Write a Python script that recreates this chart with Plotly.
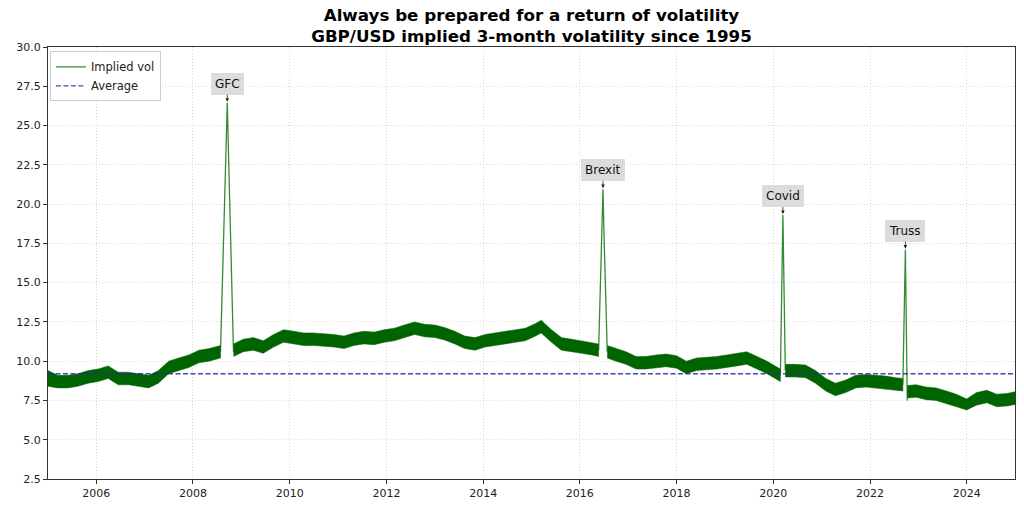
import plotly.graph_objects as go
import pandas as pd

# ── data ─────────────────────────────────────────────────────────────────────
band_dates = [
    "2005-01-01", "2005-03-15", "2005-06-01", "2005-08-15", "2005-11-01",
    "2006-01-15", "2006-04-01", "2006-06-15", "2006-09-01", "2006-11-15",
    "2007-02-01", "2007-04-15", "2007-07-01", "2007-09-15", "2007-12-01",
    "2008-02-15", "2008-05-01", "2008-07-27",
    "2008-11-02", "2009-01-15", "2009-04-01", "2009-06-15", "2009-09-01", "2009-11-15",
    "2010-02-01", "2010-04-15", "2010-07-01", "2010-09-15", "2010-12-01",
    "2011-02-15", "2011-05-01", "2011-07-15", "2011-10-01", "2011-12-15",
    "2012-03-01", "2012-05-15", "2012-08-01", "2012-10-15",
    "2013-01-01", "2013-03-15", "2013-06-01", "2013-08-15", "2013-11-01",
    "2014-01-15", "2014-04-01", "2014-06-15", "2014-09-01", "2014-11-15",
    "2015-02-01", "2015-03-15", "2015-06-01", "2015-08-15", "2015-11-01",
    "2016-01-15", "2016-04-01", "2016-05-22",
    "2016-07-26", "2016-10-01", "2016-12-15",
    "2017-03-01", "2017-05-15", "2017-08-01", "2017-10-15",
    "2018-01-01", "2018-03-15", "2018-06-01", "2018-08-15", "2018-11-01",
    "2019-01-15", "2019-04-01", "2019-06-15", "2019-09-01", "2019-11-15",
    "2020-02-24",
    "2020-04-01", "2020-06-15", "2020-09-01", "2020-11-15",
    "2021-02-01", "2021-04-15", "2021-07-01", "2021-09-15", "2021-12-01",
    "2022-02-15", "2022-05-01", "2022-07-15", "2022-09-06",
    "2022-10-09", "2022-12-15",
    "2023-03-01", "2023-05-15", "2023-08-01", "2023-10-15",
    "2024-01-01", "2024-03-15", "2024-06-01", "2024-08-15", "2024-11-01", "2024-12-31",
]
# daily noise envelope (low / high of the band)
band_lo = [
    8.4, 8.3, 8.3, 8.4, 8.6,
    8.7, 8.9, 8.5, 8.5, 8.4,
    8.3, 8.6, 9.2, 9.4, 9.6,
    9.9, 10.0, 10.2,
    10.3, 10.6, 10.7, 10.5, 10.9, 11.2,
    11.1, 11.0, 11.0, 10.95, 10.9,
    10.8, 11.0, 11.1, 11.05, 11.2,
    11.3, 11.5, 11.7, 11.55,
    11.5, 11.35, 11.1, 10.8, 10.7,
    10.9, 11.0, 11.1, 11.2, 11.3,
    11.6, 11.8, 11.2, 10.7, 10.6,
    10.5, 10.4, 10.3,
    10.2, 10.0, 9.8,
    9.5, 9.5, 9.6, 9.65,
    9.55, 9.2, 9.4, 9.45, 9.5,
    9.6, 9.7, 9.8, 9.5, 9.2,
    8.7,
    9.0, 9.0, 8.95, 8.6,
    8.1, 7.8, 8.0, 8.3, 8.35,
    8.3, 8.25, 8.15, 8.1,
    7.65, 7.7,
    7.55, 7.5, 7.3, 7.1,
    6.9, 7.2, 7.35, 7.1, 7.15, 7.25,
]
band_hi = [
    9.4, 9.1, 9.1, 9.2, 9.4,
    9.5, 9.7, 9.3, 9.3, 9.2,
    9.1, 9.4, 10.0, 10.2, 10.4,
    10.7, 10.8, 11.0,
    11.1, 11.4, 11.5, 11.3, 11.7, 12.0,
    11.9, 11.8, 11.8, 11.75, 11.7,
    11.6, 11.8, 11.9, 11.85, 12.0,
    12.1, 12.3, 12.5, 12.35,
    12.3, 12.15, 11.9, 11.6, 11.5,
    11.7, 11.8, 11.9, 12.0, 12.1,
    12.4, 12.6, 12.0, 11.5, 11.4,
    11.3, 11.2, 11.1,
    11.0, 10.8, 10.6,
    10.3, 10.3, 10.4, 10.45,
    10.35, 10.0, 10.2, 10.25, 10.3,
    10.4, 10.5, 10.6, 10.3, 10.0,
    9.5,
    9.8, 9.8, 9.75, 9.4,
    8.9, 8.6, 8.8, 9.1, 9.15,
    9.1, 9.05, 8.95, 8.9,
    8.45, 8.5,
    8.35, 8.3, 8.1, 7.9,
    7.6, 8.0, 8.15, 7.9, 7.95, 8.05,
]

event_names = ["GFC", "Brexit", "Covid", "Truss"]
spike_dates = [
    ["2008-07-27", "2008-08-27", "2008-09-16", "2008-10-10", "2008-11-02"],
    ["2016-05-22", "2016-06-17", "2016-06-24", "2016-07-02", "2016-07-26"],
    ["2020-02-24", "2020-03-14", "2020-04-01"],
    ["2022-09-06", "2022-09-25", "2022-10-09"],
]
spike_vals = [
    [10.6, 19.6, 26.45, 18.3, 10.6],
    [10.7, 19.5, 20.95, 18.0, 10.6],
    [9.1, 19.3, 9.4],
    [8.5, 17.1, 7.5],
]
peak_dates = ["2008-09-16", "2016-06-24", "2020-03-14", "2022-09-25"]
peak_vals = [26.45, 20.95, 19.3, 17.1]
avg_vol = 9.2

y_ticks = [2.5, 5.0, 7.5, 10.0, 12.5, 15.0, 17.5, 20.0, 22.5, 25.0, 27.5, 30.0]
x_ticks = [f"{y}-01-01" for y in range(2006, 2025, 2)]
x_ticklabels = [str(y) for y in range(2006, 2025, 2)]

title_lines = ["Always be prepared for a return of volatility",
               "GBP/USD implied 3-month volatility since 1995"]

# ── style ────────────────────────────────────────────────────────────────────
_FONT = "DejaVu Sans, sans-serif"
_GREEN = "#006400"
_SPIKE = "rgba(0,110,0,0.8)"
_AVG = "rgba(40,40,160,0.85)"
_GRID = "#d8d8d8"
_AXIS = "#333333"
_TICKS = dict(family=_FONT, size=11, color="#222")

fig = go.Figure()

# band of daily noise, split at each event so the spike stays open
dates = pd.to_datetime(band_dates)
peaks = pd.to_datetime(peak_dates)
segments, start = [], 0
for i in range(len(dates) - 1):
    if any((dates[i] < p) & (p < dates[i + 1]) for p in peaks):
        segments.append((start, i + 1))
        start = i + 1
segments.append((start, len(dates)))

for a, b in segments:
    xs = band_dates[a:b] + band_dates[a:b][::-1]
    ys = band_hi[a:b] + band_lo[a:b][::-1]
    fig.add_trace(go.Scatter(
        x=xs, y=ys, mode="lines", fill="toself",
        fillcolor=_GREEN, line=dict(color=_GREEN, width=0.5),
        showlegend=False, hoverinfo="skip",
    ))

# event spikes
for k, (sd, sv) in enumerate(zip(spike_dates, spike_vals)):
    fig.add_trace(go.Scatter(
        x=sd, y=sv, mode="lines", name="Implied vol",
        line=dict(color=_SPIKE, width=1.3),
        legendgroup="vol", showlegend=(k == 0),
    ))

# long-run average
fig.add_trace(go.Scatter(
    x=["2005-01-01", "2024-12-31"], y=[avg_vol, avg_vol],
    mode="lines", name="Average",
    line=dict(color=_AVG, width=1.3, dash="5px,2.5px"),
))

for name, d, v in zip(event_names, peak_dates, peak_vals):
    fig.add_annotation(
        x=d, y=v, text=name, showarrow=True,
        ax=0, ay=-19, arrowhead=2, arrowsize=0.9, arrowwidth=0.8,
        arrowcolor="#222", standoff=1,
        bgcolor="#dcdcdc", borderpad=4, borderwidth=0,
        font=dict(family=_FONT, size=12, color="#111"),
    )

# page body adds an 8px offset, so the figure is 8px smaller each way
fig.update_layout(
    width=1016, height=500,
    paper_bgcolor="white", plot_bgcolor="white",
    margin=dict(l=35, r=8, t=39, b=29),
    font=dict(family=_FONT, size=11, color="#222"),
    title=dict(
        text="<b>" + "<br>".join(title_lines) + "</b>",
        xref="paper", x=0.5, xanchor="center",
        yref="container", y=0.975, yanchor="top",
        pad=dict(t=0, b=0),
        font=dict(family=_FONT, size=16.7, color="black"),
    ),
    legend=dict(
        x=0.002, y=0.99, xanchor="left", yanchor="top",
        bgcolor="white", bordercolor="#cccccc", borderwidth=1,
        font=dict(family=_FONT, size=11.5, color="#222"),
        itemwidth=30, tracegroupgap=0,
    ),
    xaxis=dict(
        type="date", range=["2005-01-01", "2024-12-31"],
        tickvals=x_ticks, ticktext=x_ticklabels,
        showgrid=True, gridcolor=_GRID, griddash="1px,2px", gridwidth=1,
        showline=True, linecolor=_AXIS, linewidth=1.2, mirror=True,
        ticks="outside", ticklen=4, tickcolor=_AXIS,
        tickfont=_TICKS, zeroline=False,
    ),
    yaxis=dict(
        range=[2.5, 30.0], tickvals=y_ticks,
        ticktext=[f"{t:.1f}" for t in y_ticks],
        showgrid=True, gridcolor=_GRID, griddash="1px,2px", gridwidth=1,
        showline=True, linecolor=_AXIS, linewidth=1.2, mirror=True,
        ticks="outside", ticklen=4, tickcolor=_AXIS,
        tickfont=_TICKS, zeroline=False,
    ),
)

fig.write_html("out.html")
